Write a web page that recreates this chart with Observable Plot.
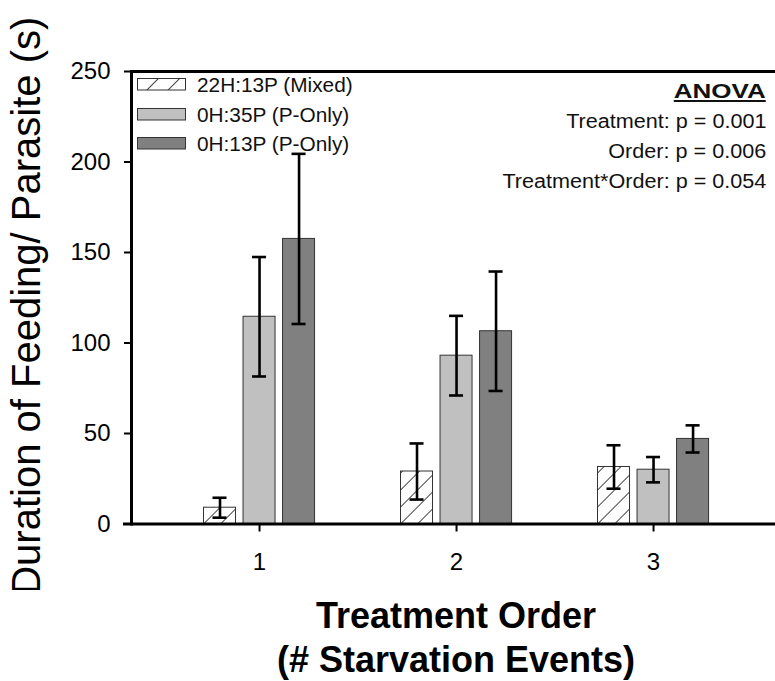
<!DOCTYPE html>
<html>
<head>
<meta charset="utf-8">
<script src="https://cdn.jsdelivr.net/npm/d3@7"></script>
<script src="https://cdn.jsdelivr.net/npm/@observablehq/plot@0.6"></script>
<style>
  body { margin: 0; background: #fff; font-family: Arial, "Liberation Sans", sans-serif; color: #000; }
  #wrap { position: relative; width: 775px; height: 681px; overflow: hidden; }
  #wrap > svg { max-width: none !important; }
  #legend { position: absolute; left: 137px; top: 70px; }
  .lrow { position: absolute; left: 0; height: 30px; width: 240px; }
  .lrow svg { position: absolute; left: 0; }
  .lrow span { position: absolute; left: 60px; font-size: 20px; line-height: 30px; color: #111; white-space: nowrap; display: inline-block; transform: scaleX(1.04); transform-origin: left center; }
  #anova { position: absolute; right: 9px; top: 76px; text-align: right; font-size: 20px; line-height: 30px; color: #111; }
  #anova div { white-space: nowrap; }
  #anova span { display: inline-block; transform-origin: right center; }
  #anova .head { font-weight: bold; text-decoration: underline; text-decoration-thickness: 2px; text-underline-offset: 2px; transform: scaleX(1.3); }
  #anova .ln { transform: scaleX(1.08); }
  #xtitle { position: absolute; left: 131px; width: 650px; top: 594px; text-align: center; font-weight: bold; font-size: 36px; line-height: 44px; color: #000; }
</style>
</head>
<body>
<div id="wrap"></div>
<script>
// ---- data ----
const orders = ["1", "2", "3"];
const seriesNames = ["22H:13P (Mixed)", "0H:35P (P-Only)", "0H:13P (P-Only)"];
const mixedMean = [9, 29, 31.5];
const mixedErr  = [5.5, 15.5, 12];
const p35Mean   = [114.5, 93, 30];
const p35Err    = [33, 22, 7];
const p13Mean   = [157.5, 106.5, 47];
const p13Err    = [47, 33, 7.5];
const yTicks = [0, 50, 100, 150, 200, 250];
const seriesFills = ["url(#hatch)", "#c0c0c0", "#808080"];
const yLabel = "Duration of Feeding/ Parasite (s)";
const xLabelLines = ["Treatment Order", "(# Starvation Events)"];
const anovaTitle = "ANOVA";
const anovaLines = ["Treatment: p = 0.001", "Order: p = 0.006", "Treatment*Order: p = 0.054"];

// ---- table ----
const meansBySeries = [mixedMean, p35Mean, p13Mean];
const errsBySeries = [mixedErr, p35Err, p13Err];
const data = [];
orders.forEach((o, i) => {
  seriesNames.forEach((s, j) => {
    data.push({order: o, series: s, mean: meansBySeries[j][i], err: errsBySeries[j][i]});
  });
});

const font = 'Arial, "Liberation Sans", sans-serif';
// the SVG is a little wider than the window; the part past 775px is cropped
const W = 800, H = 590, mL = 131, mR = 25, mT = 71, mB = 66.5;

function makePlot(outerL, outerR) {
  const edge = {facet: "super", stroke: "#000", strokeWidth: 3};
  return Plot.plot({
    width: W,
    height: H,
    marginLeft: mL,
    marginRight: mR,
    marginTop: mT,
    marginBottom: mB,
    style: {fontFamily: font, fontSize: "24px", color: "#000", background: "transparent", maxWidth: "none"},
    fx: {domain: orders, paddingInner: 0.36, paddingOuter: 0.3145, align: 0.5245, round: false, label: null},
    x: {domain: seriesNames, paddingInner: 0.19, paddingOuter: 0.19, round: false, axis: null},
    y: {domain: [0, 250], label: null},
    color: {domain: seriesNames, range: seriesFills},
    marks: [
      Plot.barY(data, {fx: "order", x: "series", y: "mean", fill: "series", stroke: "#333", strokeWidth: 1}),
      Plot.ruleX(data, {fx: "order", x: "series", y1: d => d.mean - d.err, y2: d => d.mean + d.err, stroke: "#000", strokeWidth: 2.6}),
      Plot.tickY(data, {fx: "order", x: "series", y: d => d.mean - d.err, insetLeft: 9, insetRight: 9, stroke: "#000", strokeWidth: 2.6}),
      Plot.tickY(data, {fx: "order", x: "series", y: d => d.mean + d.err, insetLeft: 9, insetRight: 9, stroke: "#000", strokeWidth: 2.6}),
      // left, top and bottom edges of the plot frame (no right edge)
      Plot.frame({...edge, anchor: "left", insetLeft: -outerL}),
      Plot.frame({...edge, anchor: "top", insetLeft: -outerL, insetRight: -outerR}),
      Plot.frame({...edge, anchor: "bottom", insetLeft: -outerL - 7, insetRight: -outerR}),
      Plot.axisY({ticks: yTicks, tickSize: 7, tickPadding: 14, fontSize: 24, strokeWidth: 2, label: null, dx: -outerL}),
      Plot.axisFx({anchor: "bottom", tickSize: 8, tickPadding: 21, fontSize: 24, strokeWidth: 2, label: null}),
      Plot.text([yLabel], {facet: "super", frameAnchor: "left", textAnchor: "middle", rotate: -90, dx: -104 - outerL, dy: 8, fontSize: 40, fill: "#000"})
    ]
  });
}

// probe render to learn where the facet bands start and end
const probe = makePlot(0, 0);
const fxS = probe.scale("fx");
const bw = fxS.bandwidth ?? 0;
const outerL = fxS.apply(orders[0]) - mL;
const outerR = (W - mR) - (fxS.apply(orders[orders.length - 1]) + bw);
const plot = makePlot(outerL, outerR);

// hatch pattern definition
d3.select(plot).insert("defs", ":first-child").html(
  '<pattern id="hatch" patternUnits="userSpaceOnUse" width="12" height="12" patternTransform="rotate(45)">' +
  '<rect width="12" height="12" fill="#fff"/>' +
  '<line x1="0.5" y1="0" x2="0.5" y2="12" stroke="#444" stroke-width="1"/></pattern>' +
  '<pattern id="hatchL" patternUnits="userSpaceOnUse" width="15" height="15" patternTransform="rotate(45)">' +
  '<rect width="15" height="15" fill="#fff"/>' +
  '<line x1="0.5" y1="0" x2="0.5" y2="15" stroke="#444" stroke-width="1"/></pattern>'
);

const wrap = document.getElementById("wrap");
wrap.appendChild(plot);

// legend
const legend = document.createElement("div");
legend.id = "legend";
seriesNames.forEach((s, j) => {
  const row = document.createElement("div");
  row.className = "lrow";
  row.style.top = (j * 29.5) + "px";
  const fill = j === 0 ? "url(#hatchL)" : seriesFills[j];
  row.innerHTML = `<svg width="50" height="13" style="top:8px"><rect x="0.5" y="0.5" width="48" height="11.5" fill="${fill}" stroke="#333" stroke-width="1"/></svg><span></span>`;
  row.querySelector("span").textContent = s;
  legend.appendChild(row);
});
wrap.appendChild(legend);

// ANOVA annotation
const anova = document.createElement("div");
anova.id = "anova";
const h = document.createElement("div");
h.innerHTML = '<span class="head"></span>';
h.querySelector("span").textContent = anovaTitle;
anova.appendChild(h);
anovaLines.forEach(t => {
  const d = document.createElement("div");
  d.innerHTML = '<span class="ln"></span>';
  d.querySelector("span").textContent = t;
  anova.appendChild(d);
});
wrap.appendChild(anova);

// x title
const xt = document.createElement("div");
xt.id = "xtitle";
xLabelLines.forEach(t => {
  const d = document.createElement("div");
  d.textContent = t;
  xt.appendChild(d);
});
wrap.appendChild(xt);
</script>
</body>
</html>
